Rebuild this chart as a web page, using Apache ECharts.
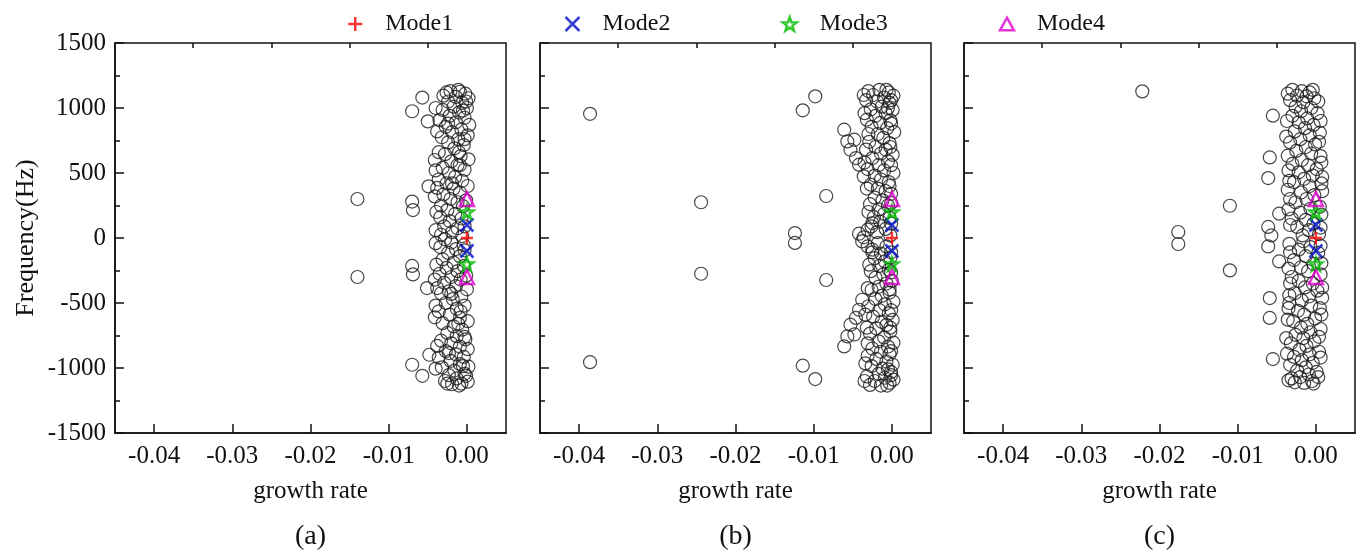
<!DOCTYPE html>
<html>
<head>
<meta charset="utf-8">
<script src="https://cdn.jsdelivr.net/npm/echarts@6/dist/echarts.min.js"></script>
<style>
  html, body { margin: 0; padding: 0; background: #fff; }
  #chart { width: 1364px; height: 553px; }
</style>
</head>
<body>
<div id="chart"></div>
<script>
// Eigenvalue spectra: [growth rate, frequency (Hz)] for three cases.
const panelA = [
  [-0.0140, 300], [-0.0140, -300],
  [-0.0070, 975], [-0.0057, 1080], [-0.0050, 897], [-0.0049, 397], [-0.0038, 385],
  [-0.0070, 280], [-0.0069, 215], [-0.0070, -215], [-0.0069, -280],
  [-0.0051, -385], [-0.0038, -385], [-0.0070, -975], [-0.0057, -1060], [-0.0048, -898],
  [-0.0021, 1130], [-0.0009, 1125], [-0.0002, 1110], [-0.0030, 1095], [-0.0014, 1085], [0.0002, 1075],
  [-0.0024, 1050], [-0.0006, 1040], [-0.0017, 1010], [0.0000, 1000], [-0.0031, 985], [-0.0010, 965],
  [-0.0022, 940], [-0.0003, 925], [-0.0035, 905], [-0.0014, 890], [0.0003, 870], [-0.0027, 855],
  [-0.0007, 835], [-0.0019, 815], [0.0001, 790], [-0.0032, 775], [-0.0011, 760], [-0.0024, 735],
  [-0.0004, 715], [-0.0016, 690], [-0.0036, 660], [-0.0028, 645], [-0.0008, 630], [0.0002, 605],
  [-0.0020, 590], [-0.0012, 560], [-0.0031, 540], [-0.0003, 525], [-0.0023, 500], [-0.0015, 470],
  [-0.0036, 450], [-0.0006, 440], [-0.0026, 420], [0.0001, 400], [-0.0017, 380], [-0.0009, 350],
  [-0.0030, 335], [-0.0021, 300], [-0.0012, 275], [-0.0033, 250], [-0.0005, 245], [-0.0025, 215],
  [-0.0015, 185], [-0.0034, 160], [-0.0007, 150], [-0.0022, 130], [-0.0029, 90], [-0.0012, 75],
  [-0.0019, 45], [-0.0033, 25], [-0.0006, 15],
  [-0.0040, 1000], [-0.0011, 1140], [-0.0026, 1120], [-0.0001, 1050], [-0.0038, 820], [-0.0005, 980],
  [-0.0041, 600], [-0.0010, 660], [-0.0003, 760], [-0.0040, 520], [-0.0019, 420], [-0.0041, 320],
  [-0.0001, 290], [-0.0039, 200], [-0.0003, 90], [-0.0040, 60], [-0.0009, 560], [-0.0024, 880],
  [-0.0019, -1125], [-0.0007, -1120], [0.0001, -1105], [-0.0028, -1100], [-0.0013, -1080], [-0.0023, -1055],
  [-0.0003, -1045], [-0.0016, -1020], [-0.0032, -995], [0.0002, -990], [-0.0009, -970], [-0.0021, -945],
  [-0.0036, -920], [-0.0004, -915], [-0.0014, -895], [-0.0027, -870], [0.0001, -855], [-0.0009, -835],
  [-0.0020, -810], [-0.0033, -790], [-0.0002, -780], [-0.0013, -755], [-0.0025, -730], [-0.0006, -705],
  [-0.0017, -680], [-0.0031, -655], [0.0001, -640], [-0.0009, -615], [-0.0022, -590], [-0.0036, -565],
  [-0.0013, -545], [-0.0003, -520], [-0.0027, -500], [-0.0018, -470], [-0.0007, -450], [-0.0033, -425],
  [-0.0023, -410], [0.0000, -395], [-0.0014, -370], [-0.0029, -345], [-0.0008, -320], [-0.0020, -300],
  [-0.0035, -275], [-0.0012, -255], [-0.0026, -230], [-0.0004, -215], [-0.0017, -190], [-0.0031, -165],
  [-0.0009, -140], [-0.0024, -115], [-0.0014, -85], [-0.0034, -70], [-0.0004, -55], [-0.0020, -35],
  [-0.0028, -10],
  [-0.0040, -1005], [-0.0010, -1135], [-0.0025, -1120], [-0.0001, -1060], [-0.0038, -830], [-0.0005, -985],
  [-0.0041, -610], [-0.0011, -660], [-0.0003, -760], [-0.0040, -520], [-0.0020, -430], [-0.0041, -320],
  [-0.0001, -290], [-0.0039, -205], [-0.0003, -95], [-0.0040, -40], [-0.0008, -565], [-0.0023, -885]
];

const panelB = [
  [-0.0386, 955], [-0.0386, -955], [-0.0244, 275], [-0.0244, -275],
  [-0.0124, 38], [-0.0124, -38], [-0.0114, 982], [-0.0114, -982],
  [-0.0098, 1090], [-0.0098, -1085], [-0.0084, 323], [-0.0084, -323],
  [-0.0061, 833], [-0.0057, 743], [-0.0048, 756], [-0.0053, 679], [-0.0046, 615], [-0.0042, 564], [-0.0036, 474],
  [-0.0061, -834], [-0.0057, -757], [-0.0048, -742], [-0.0053, -667], [-0.0046, -615], [-0.0042, -552], [-0.0038, -475],
  [-0.0042, 33], [-0.0031, 64], [-0.0025, 115], [-0.0036, 5],
  [-0.0038, -26], [-0.0031, -65], [-0.0025, -110],
  [-0.0030, 1130], [-0.0016, 1140], [-0.0004, 1120], [0.0002, 1095], [-0.0024, 1100], [-0.0010, 1080],
  [-0.0033, 1060], [-0.0019, 1050], [-0.0003, 1040], [-0.0013, 1010], [-0.0027, 990], [0.0001, 985],
  [-0.0008, 960], [-0.0021, 940], [-0.0032, 910], [-0.0002, 905], [-0.0015, 885], [-0.0026, 855],
  [-0.0006, 845], [0.0003, 815], [-0.0018, 800], [-0.0011, 770], [-0.0029, 740], [-0.0003, 730],
  [-0.0021, 700], [-0.0008, 680], [-0.0014, 650], [0.0001, 640], [-0.0025, 615], [-0.0005, 590],
  [-0.0017, 560], [-0.0031, 530], [-0.0010, 520], [0.0002, 500], [-0.0022, 480], [-0.0014, 450],
  [-0.0004, 430], [-0.0027, 410], [-0.0018, 380], [-0.0008, 360], [-0.0001, 340], [-0.0022, 310],
  [-0.0012, 290], [-0.0028, 260], [-0.0005, 250], [-0.0017, 220], [-0.0010, 185], [-0.0023, 160],
  [-0.0003, 155], [-0.0015, 125], [-0.0026, 90], [-0.0008, 70], [-0.0019, 45], [-0.0002, 20],
  [-0.0036, 1100], [-0.0007, 1140], [-0.0001, 1060], [-0.0035, 960], [-0.0005, 1000], [-0.0030, 800],
  [-0.0001, 880], [-0.0033, 680], [-0.0002, 700], [-0.0035, 580], [-0.0001, 560], [-0.0032, 380],
  [-0.0003, 400], [-0.0001, 270], [-0.0030, 200], [-0.0001, 110],
  [-0.0028, -1130], [-0.0014, -1135], [-0.0003, -1115], [0.0002, -1090], [-0.0022, -1100], [-0.0009, -1075],
  [-0.0032, -1065], [-0.0017, -1045], [-0.0001, -1030], [-0.0012, -1005], [-0.0026, -985], [0.0001, -975],
  [-0.0007, -950], [-0.0020, -930], [-0.0031, -905], [-0.0003, -895], [-0.0014, -875], [-0.0025, -850],
  [-0.0005, -835], [0.0002, -805], [-0.0017, -795], [-0.0010, -765], [-0.0028, -735], [-0.0002, -720],
  [-0.0020, -695], [-0.0007, -670], [-0.0013, -645], [0.0001, -630], [-0.0024, -605], [-0.0004, -580],
  [-0.0016, -555], [-0.0030, -525], [-0.0009, -510], [0.0002, -490], [-0.0021, -470], [-0.0013, -445],
  [-0.0003, -420], [-0.0026, -400], [-0.0017, -375], [-0.0007, -350], [0.0000, -330], [-0.0021, -305],
  [-0.0011, -280], [-0.0027, -255], [-0.0004, -245], [-0.0016, -215], [-0.0009, -180], [-0.0022, -155],
  [-0.0002, -150], [-0.0014, -120], [-0.0025, -90], [-0.0007, -65], [-0.0018, -40],
  [-0.0035, -1100], [-0.0006, -1135], [-0.0001, -1055], [-0.0034, -965], [-0.0005, -1010], [-0.0031, -810],
  [-0.0001, -870], [-0.0032, -690], [-0.0002, -690], [-0.0034, -590], [-0.0001, -555], [-0.0031, -385],
  [-0.0003, -395], [-0.0001, -265], [-0.0029, -205], [-0.0001, -110]
];

const panelC = [
  [-0.0222, 1128], [-0.0176, 46], [-0.0176, -46], [-0.0110, 248], [-0.0110, -249],
  [-0.0055, 941], [-0.0059, 620], [-0.0061, 461], [-0.0036, 633], [-0.0047, 187], [-0.0061, 85], [-0.0057, 20],
  [-0.0055, -931], [-0.0059, -615], [-0.0036, -628], [-0.0059, -462], [-0.0047, -180], [-0.0061, -65],
  [-0.0030, 1140], [-0.0018, 1130], [-0.0008, 1120], [-0.0024, 1095], [-0.0012, 1090], [-0.0002, 1075],
  [-0.0033, 1060], [-0.0016, 1045], [-0.0026, 1010], [-0.0006, 1000], [-0.0019, 975], [0.0002, 960],
  [-0.0030, 940], [-0.0011, 920], [-0.0022, 890], [-0.0003, 870], [-0.0014, 845], [-0.0027, 820],
  [0.0005, 810], [-0.0008, 790], [-0.0020, 760], [-0.0033, 735], [-0.0001, 720], [-0.0013, 700],
  [-0.0025, 670], [-0.0006, 650], [0.0006, 630], [-0.0018, 600], [-0.0030, 570], [-0.0010, 560],
  [0.0001, 530], [-0.0022, 505], [-0.0004, 480], [-0.0015, 455], [-0.0028, 430], [0.0007, 420],
  [-0.0008, 400], [-0.0036, 371], [-0.0019, 350], [-0.0002, 330], [-0.0012, 300], [-0.0026, 275],
  [0.0005, 240], [-0.0007, 225], [-0.0020, 195], [-0.0031, 150], [-0.0013, 140], [-0.0003, 110],
  [-0.0024, 85], [-0.0009, 60], [0.0004, 30], [-0.0017, 20],
  [-0.0036, 1110], [-0.0004, 1140], [0.0003, 1050], [-0.0037, 900], [0.0006, 900], [-0.0038, 780],
  [0.0004, 740], [-0.0035, 520], [0.0007, 580], [-0.0034, 440], [0.0008, 470], [-0.0033, 300],
  [0.0008, 360], [-0.0035, 220], [0.0007, 180], [-0.0033, 100], [0.0006, 80],
  [-0.0027, -1110], [-0.0015, -1115], [-0.0005, -1100], [-0.0031, -1080], [-0.0020, -1070], [-0.0009, -1050],
  [0.0001, -1030], [-0.0024, -1020], [-0.0013, -995], [-0.0033, -975], [-0.0004, -960], [-0.0018, -940],
  [-0.0028, -915], [-0.0008, -895], [0.0004, -875], [-0.0021, -860], [-0.0012, -830], [-0.0032, -810],
  [-0.0002, -795], [-0.0016, -770], [-0.0026, -745], [-0.0007, -725], [0.0006, -700], [-0.0019, -690],
  [-0.0011, -660], [-0.0029, -640], [-0.0001, -620], [-0.0015, -590], [-0.0023, -560], [0.0005, -540],
  [-0.0006, -520], [-0.0034, -500], [-0.0018, -480], [-0.0009, -450], [-0.0027, -425], [0.0002, -405],
  [-0.0014, -380], [-0.0004, -350], [-0.0022, -330], [-0.0031, -300], [0.0006, -280], [-0.0010, -255],
  [-0.0019, -225], [-0.0003, -200], [-0.0028, -170], [-0.0013, -140], [0.0003, -115], [-0.0022, -90],
  [-0.0007, -70], [-0.0034, -45], [-0.0016, -25],
  [-0.0035, -1095], [-0.0003, -1120], [0.0003, -1070], [-0.0037, -890], [0.0006, -920], [-0.0038, -770],
  [0.0004, -760], [-0.0035, -540], [0.0007, -590], [-0.0034, -440], [0.0008, -460], [-0.0033, -350],
  [0.0008, -380], [-0.0035, -235], [0.0007, -195], [-0.0033, -110], [0.0006, -60]
];

// Tracked modes (same in every case)
const mode1 = [[0, 0]];
const mode2 = [[0, 100], [0, -100]];
const mode3 = [[0, 200], [0, -200]];
const mode4 = [[0, 300], [0, -300]];

const panelNames = ['(a)', '(b)', '(c)'];
const xMajorTicks = [-0.04, -0.03, -0.02, -0.01, 0];
const xMinorTicks = [-0.035, -0.025, -0.015, -0.005];

const FONT = '"Liberation Serif", "Times New Roman", Times, serif';
const INK = '#111';

const PLUS = 'path://M5,0L5,10M0,5L10,5';
const CROSS = 'path://M0,0L10,10M10,0L0,10';
const STAR = 'path://M5,0L6.2,3.4L9.8,3.5L6.9,5.7L7.9,9.2L5,7.1L2.1,9.2L3.1,5.7L0.2,3.5L3.8,3.4Z';
const TRI = 'path://M5,0L10,9L0,9Z';

const modes = [
  { name: 'Mode1', data: mode1, symbol: PLUS, color: '#ff0000', size: 12 },
  { name: 'Mode2', data: mode2, symbol: CROSS, color: '#0010c8', size: 13 },
  { name: 'Mode3', data: mode3, symbol: STAR, color: '#00bb00', size: 13 },
  { name: 'Mode4', data: mode4, symbol: TRI, color: '#e000d0', size: 14 }
];

const panels = [panelA, panelB, panelC];
const lefts = [115, 540, 964];
const W = 391, TOP = 43, H = 390;

const grid = lefts.map(l => ({
  left: l, top: TOP, width: W, height: H,
  show: true, borderColor: INK, borderWidth: 1.5, backgroundColor: 'transparent'
}));

const xAxis = [];
const yAxis = [];
lefts.forEach((l, i) => {
  xAxis.push({
    type: 'value', gridIndex: i, min: -0.045, max: 0.005,
    axisLine: { show: true, onZero: false, lineStyle: { color: INK, width: 1.5 } },
    axisTick: { show: true, inside: true, length: 9, customValues: xMajorTicks, lineStyle: { color: INK, width: 1.5 } },
    axisLabel: {
      customValues: xMajorTicks, formatter: v => v.toFixed(2),
      fontFamily: FONT, fontSize: 25, color: INK, margin: 11
    },
    splitLine: { show: false },
    name: 'growth rate', nameLocation: 'middle', nameGap: 46,
    nameTextStyle: { fontFamily: FONT, fontSize: 25, color: INK }
  });
  xAxis.push({
    type: 'value', gridIndex: i, min: -0.045, max: 0.005,
    axisLine: { show: false, onZero: false },
    axisTick: { show: true, inside: true, length: 5, customValues: xMinorTicks, lineStyle: { color: INK, width: 1.5 } },
    axisLabel: { show: false },
    splitLine: { show: false }
  });
  yAxis.push({
    type: 'value', gridIndex: i, min: -1500, max: 1500, interval: 500,
    axisLine: { show: true, onZero: false, lineStyle: { color: INK, width: 1.5 } },
    axisTick: { show: true, inside: true, length: 9, lineStyle: { color: INK, width: 1.5 } },
    minorTick: { show: true, splitNumber: 2, length: 5, lineStyle: { color: INK, width: 1.5 } },
    axisLabel: {
      show: i === 0, fontFamily: FONT, fontSize: 25, color: INK, margin: 9,
      showMinLabel: true, showMaxLabel: true,
      formatter: v => String(v)
    },
    splitLine: { show: false },
    minorSplitLine: { show: false },
    name: i === 0 ? 'Frequency(Hz)' : '',
    nameLocation: 'middle', nameGap: 76,
    nameTextStyle: { fontFamily: FONT, fontSize: 26, color: INK }
  });
});

const series = [];
panels.forEach((pts, i) => {
  series.push({
    type: 'scatter', xAxisIndex: i * 2, yAxisIndex: i, data: pts,
    symbol: 'circle', symbolSize: 13, silent: true, z: 2,
    itemStyle: { color: 'transparent', borderColor: '#1a1a1a', borderWidth: 1.2 }
  });
  modes.forEach(m => {
    series.push({
      name: m.name, type: 'scatter', xAxisIndex: i * 2, yAxisIndex: i, data: m.data,
      symbol: m.symbol, symbolSize: m.size, silent: true, z: 5,
      itemStyle: { color: 'transparent', borderColor: m.color, borderWidth: 2.5 }
    });
  });
});

const graphic = panelNames.map((t, i) => ({
  type: 'text', x: lefts[i] + W / 2, y: 537,
  style: { text: t, font: '28px ' + FONT, fill: INK, align: 'center', verticalAlign: 'middle' }
}));

const chart = echarts.init(document.getElementById('chart'), null, { renderer: 'canvas' });
chart.setOption({
  backgroundColor: '#ffffff',
  animation: false,
  grid, xAxis, yAxis, series, graphic,
  legend: {
    left: 342, top: 7, itemWidth: 14, itemHeight: 14, itemGap: 111,
    selectedMode: false,
    textStyle: { fontFamily: FONT, fontSize: 24, color: INK, padding: [0, 0, 0, 18] },
    data: modes.map(m => ({
      name: m.name, icon: m.symbol,
      itemStyle: { color: 'transparent', borderColor: m.color, borderWidth: 2.5 }
    }))
  }
});
</script>
</body>
</html>
